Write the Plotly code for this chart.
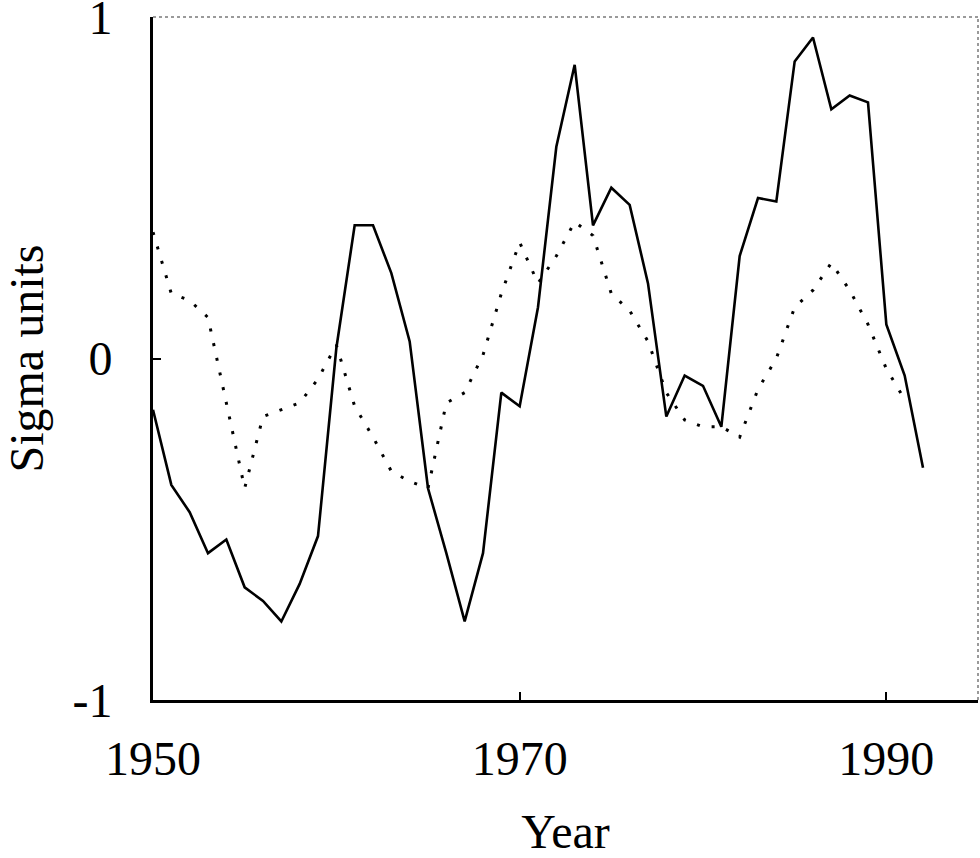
import plotly.graph_objects as go

# annual values (sigma units)
years_solid = list(range(1950, 1993))
solid = [
    -0.15, -0.37, -0.45, -0.57, -0.53, -0.67, -0.71, -0.77, -0.66, -0.52,
    0.03, 0.39, 0.39, 0.25, 0.05, -0.38, -0.57, -0.77, -0.57, -0.10,
    -0.14, 0.15, 0.62, 0.86, 0.39, 0.50, 0.45, 0.22, -0.17, -0.05,
    -0.08, -0.20, 0.30, 0.47, 0.46, 0.87, 0.94, 0.73, 0.77, 0.75,
    0.10, -0.05, -0.32,
]

years_dotted = list(range(1950, 1992))
dotted = [
    0.37, 0.19, 0.17, 0.12, -0.13, -0.38, -0.17, -0.15, -0.13, -0.06,
    0.04, -0.14, -0.23, -0.33, -0.36, -0.38, -0.13, -0.10, 0.01, 0.19,
    0.34, 0.22, 0.30, 0.40, 0.36, 0.19, 0.14, 0.05, -0.10, -0.18,
    -0.20, -0.20, -0.23, -0.09, 0.00, 0.15, 0.20, 0.28, 0.20, 0.10,
    -0.03, -0.12,
]

x_ticks = [1950, 1970, 1990]
y_ticks = [-1, 0, 1]

FONT = "Liberation Serif, Times New Roman, serif"

fig = go.Figure()
fig.add_trace(go.Scatter(
    x=years_dotted, y=dotted, mode="lines",
    line=dict(color="black", width=3, dash="3px,12px"),
    showlegend=False,
))
fig.add_trace(go.Scatter(
    x=years_solid, y=solid, mode="lines",
    line=dict(color="black", width=2.6),
    showlegend=False,
))

# dotted grey frame on top and right
fig.add_shape(type="line", xref="paper", yref="paper", x0=0, x1=1, y0=1, y1=1,
              line=dict(color="#9a9a9a", width=2, dash="dot"))
fig.add_shape(type="line", xref="paper", yref="paper", x0=1, x1=1, y0=0, y1=1,
              line=dict(color="#9a9a9a", width=2, dash="dot"))

fig.update_layout(
    width=980, height=858,
    margin=dict(l=153, r=2, t=17, b=158),
    plot_bgcolor="white", paper_bgcolor="white",
    font=dict(family=FONT, size=48, color="black"),
    xaxis=dict(
        range=[1950, 1995], tickvals=x_ticks, ticks="inside", ticklen=8,
        tickwidth=2, tickcolor="black", showgrid=False, zeroline=False,
        showline=True, linecolor="black", linewidth=3,
        automargin=False, ticklabelstandoff=14,
        title=dict(text="Year", standoff=40, font=dict(size=48)),
    ),
    yaxis=dict(
        range=[-1, 1], tickvals=y_ticks, ticktext=["-1", "0", "1"],
        ticks="inside", ticklen=8, tickwidth=2, tickcolor="black",
        showgrid=False, zeroline=False,
        showline=True, linecolor="black", linewidth=3,
        automargin=False, ticklabelstandoff=28, ticklabeloverflow="allow",
        title=dict(text="Sigma units", standoff=24, font=dict(size=48)),
    ),
)

# drop the default 8px body margin so the figure sits flush in the window
fig.write_html("out.html", config={"displayModeBar": False},
               post_script="document.body.style.margin = '0px';")
